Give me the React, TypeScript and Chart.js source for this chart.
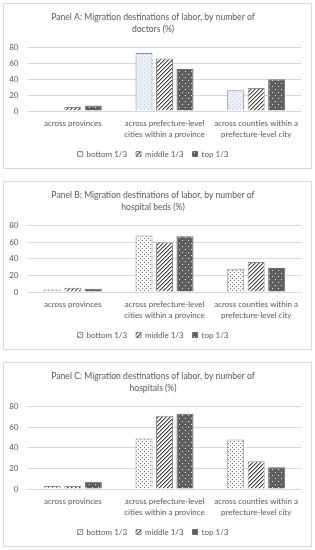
import React, { useEffect, useRef } from 'react';
import { Chart, registerables } from 'chart.js';
Chart.register(...registerables);

const categories: string[][] = [
  ['across provinces'],
  ['across prefecture-level', 'cities within a province'],
  ['across counties within a', 'prefecture-level city'],
];
const seriesNames = ['bottom 1/3', 'middle 1/3', 'top 1/3'];

const titleA = ['Panel A: Migration destinations of labor, by number of', 'doctors (%)'];
const doctorsBottom = [1, 73, 26];
const doctorsMiddle = [5, 66, 29];
const doctorsTop = [7, 53, 40];

const titleB = ['Panel B: Migration destinations of labor, by number of', 'hospital beds (%)'];
const bedsBottom = [3, 68, 28];
const bedsMiddle = [5, 60, 36];
const bedsTop = [4, 67, 29];

const titleC = ['Panel C: Migration destinations of labor, by number of', 'hospitals (%)'];
const hospitalsBottom = [3, 49, 48];
const hospitalsMiddle = [3, 71, 27];
const hospitalsTop = [7, 73, 21];

const yMin = 0;
const yMax = 80;
const yStep = 20;

const FONT = 'Lato, "Liberation Sans", sans-serif';
const TEXT = '#595959';
const GRID = '#d9d9d9';

function tile(size: number, draw: (c: CanvasRenderingContext2D) => void): CanvasPattern {
  const cv = document.createElement('canvas');
  cv.width = size;
  cv.height = size;
  const c = cv.getContext('2d')!;
  draw(c);
  return c.createPattern(cv, 'repeat')!;
}

function dots(bg: string, fg: string): CanvasPattern {
  return tile(4, (c) => {
    c.fillStyle = bg;
    c.fillRect(0, 0, 4, 4);
    c.fillStyle = fg;
    c.fillRect(0, 0, 1, 1);
    c.fillRect(2, 2, 1, 1);
  });
}

function hatch(): CanvasPattern {
  return tile(4, (c) => {
    c.fillStyle = '#ffffff';
    c.fillRect(0, 0, 4, 4);
    c.fillStyle = '#3f3f3f';
    for (let i = 0; i < 4; i++) {
      c.fillRect(i, 3 - i, 1, 1);
    }
    c.fillStyle = 'rgba(63,63,63,0.45)';
    for (let i = 0; i < 4; i++) {
      c.fillRect((i + 1) % 4, 3 - i, 1, 1);
    }
  });
}

function darkDots(): CanvasPattern {
  return tile(6, (c) => {
    c.fillStyle = '#5e5e5e';
    c.fillRect(0, 0, 6, 6);
    c.fillStyle = '#e8e8e8';
    c.fillRect(1, 1, 1, 1);
    c.fillRect(4, 4, 1, 1);
  });
}

type PanelProps = {
  title: string[];
  bottom: number[];
  middle: number[];
  top: number[];
  blue: boolean;
  y: number;
  h: number;
};

function Panel({ title, bottom, middle, top, blue, y, h }: PanelProps) {
  const ref = useRef<HTMLCanvasElement | null>(null);
  useEffect(() => {
    const canvas = ref.current;
    if (!canvas) return;
    const pBottom = blue ? dots('#edf1f9', '#b9c9e6') : dots('#ffffff', '#6f6f6f');
    const pMiddle = hatch();
    const pTop = darkDots();
    const chart = new Chart(canvas, {
      type: 'bar',
      data: {
        labels: categories,
        datasets: [
          { label: seriesNames[0], data: bottom, backgroundColor: pBottom, borderColor: '#8c8c8c', borderWidth: 1 },
          { label: seriesNames[1], data: middle, backgroundColor: pMiddle, borderColor: '#8c8c8c', borderWidth: 1 },
          { label: seriesNames[2], data: top, backgroundColor: pTop, borderColor: '#6a6a6a', borderWidth: 1 },
        ],
      },
      options: {
        responsive: false,
        animation: false,
        devicePixelRatio: 1,
        layout: { padding: { left: 0, right: 9, top: 0, bottom: 0 } },
        datasets: { bar: { categoryPercentage: 0.67, barPercentage: 0.83 } },
        plugins: {
          tooltip: { enabled: false },
          title: {
            display: true,
            text: title,
            color: TEXT,
            font: { family: FONT, size: 8.6, weight: 'normal', lineHeight: 12 / 8.6 },
            padding: { top: 7, bottom: 12.5 },
          },
          legend: {
            display: true,
            position: 'bottom',
            labels: {
              color: TEXT,
              font: { family: FONT, size: 8 },
              boxWidth: 5,
              boxHeight: 5,
              padding: 9,
            },
          },
        },
        scales: {
          x: {
            grid: { display: false, drawTicks: false },
            border: { display: false },
            ticks: {
              color: TEXT,
              font: { family: FONT, size: 8, lineHeight: 11 / 8 },
              padding: 6.5,
              maxRotation: 0,
              autoSkip: false,
            },
            afterFit: (s: any) => { s.height = 30; },
          },
          y: {
            min: yMin,
            max: yMax,
            grid: { color: GRID, drawTicks: false },
            border: { display: false },
            ticks: {
              stepSize: yStep,
              color: TEXT,
              font: { family: FONT, size: 8 },
              padding: 8.5,
            },
            afterFit: (s: any) => { s.width = 23; },
          },
        },
      },
    } as any);
    return () => chart.destroy();
  }, []);
  return (
    <div
      style={{
        position: 'absolute',
        left: 3,
        top: y,
        width: 309,
        height: h,
        boxSizing: 'border-box',
        border: `1px solid ${GRID}`,
        background: '#fff',
      }}
    >
      <canvas ref={ref} width={307} height={h - 2} style={{ display: 'block' }} />
    </div>
  );
}

export default function App() {
  return (
    <div style={{ position: 'absolute', left: 0, top: 0, width: 315, height: 550, background: '#fff' }}>
      <Panel title={titleA} bottom={doctorsBottom} middle={doctorsMiddle} top={doctorsTop} blue={true} y={3} h={166} />
      <Panel title={titleB} bottom={bedsBottom} middle={bedsMiddle} top={bedsTop} blue={false} y={181} h={169} />
      <Panel title={titleC} bottom={hospitalsBottom} middle={hospitalsMiddle} top={hospitalsTop} blue={false} y={362} h={185} />
    </div>
  );
}
